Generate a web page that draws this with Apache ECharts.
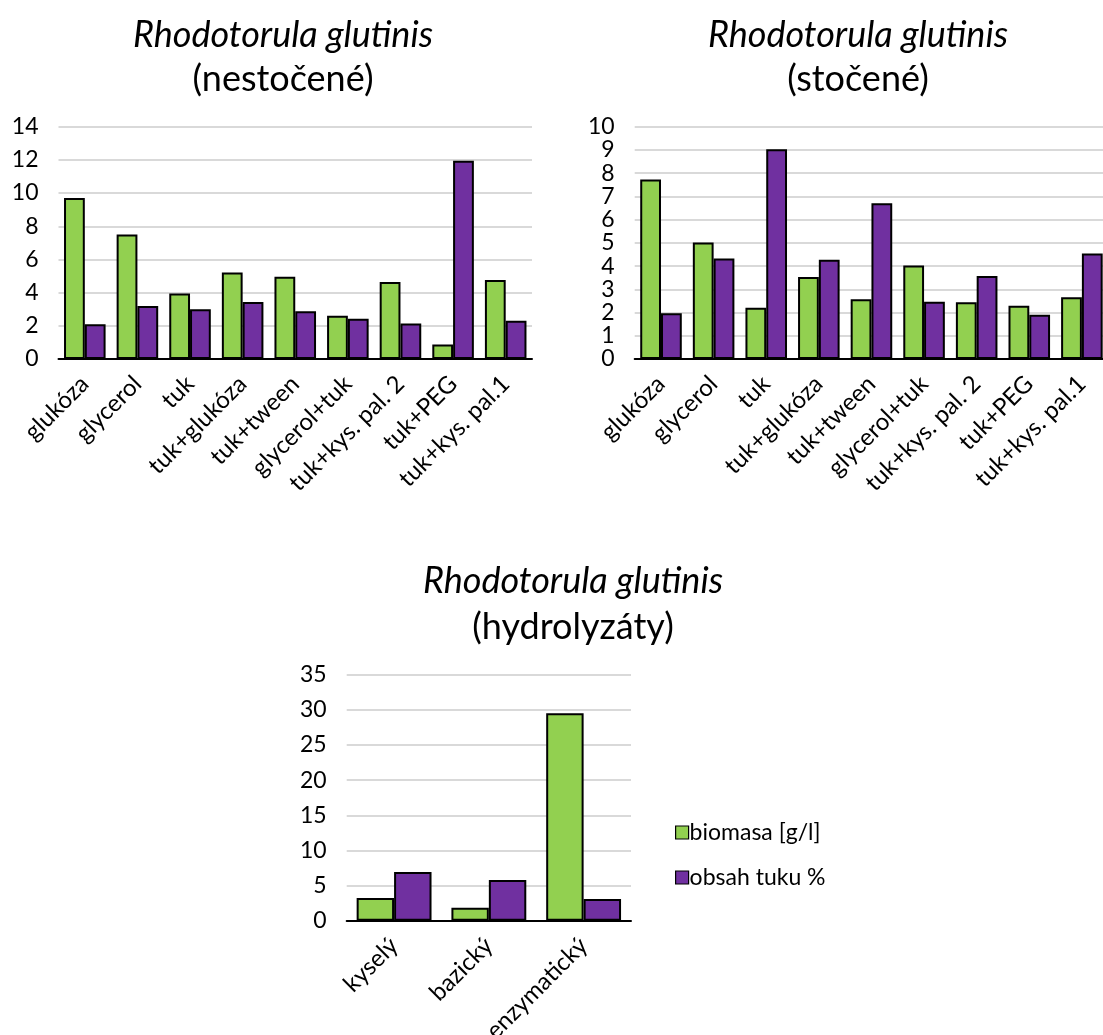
<!DOCTYPE html>
<html>
<head>
<meta charset="utf-8">
<script src="https://cdn.jsdelivr.net/npm/echarts@6/dist/echarts.min.js"></script>
<style>
html,body{margin:0;padding:0;background:#fff;}
#c{width:1103px;height:1035px;}
</style>
</head>
<body>
<div id="c"></div>
<script>
// ---- data ----
const catsTop = ['glukóza','glycerol','tuk','tuk+glukóza','tuk+tween','glycerol+tuk','tuk+kys. pal. 2','tuk+PEG','tuk+kys. pal.1'];
const biomasaNestocene = [9.7, 7.5, 3.95, 5.22, 4.96, 2.6, 4.64, 0.88, 4.76];
const tukNestocene     = [2.1, 3.2, 3.0, 3.43, 2.88, 2.42, 2.14, 11.95, 2.3];
const biomasaStocene   = [7.73, 5.01, 2.21, 3.53, 2.57, 4.03, 2.44, 2.29, 2.66];
const tukStocene       = [1.97, 4.33, 9.03, 4.27, 6.71, 2.46, 3.57, 1.91, 4.54];
const catsHydro = ['kyselý','bazický','enzymatický'];
const biomasaHydro = [3.22, 1.85, 29.5];
const tukHydro     = [6.92, 5.78, 3.08];
const seriesNames = ['biomasa [g/l]','obsah tuku %'];
const titles = [
  ['Rhodotorula glutinis','(nestočené)'],
  ['Rhodotorula glutinis','(stočené)'],
  ['Rhodotorula glutinis','(hydrolyzáty)']
];

const FONT = 'Lato';
const GREEN = '#92d050', PURPLE = '#7030a0';

function mkTitle(t, cx, top, gap){
  return {
    text: t[0], subtext: t[1], left: cx, top: top, textAlign: 'center', itemGap: gap,
    textStyle: {fontFamily: FONT, fontStyle: 'italic', fontWeight: 'normal', fontSize: 36, color: '#000', lineHeight: 40},
    subtextStyle: {fontFamily: FONT, fontSize: 36, color: '#000', lineHeight: 40}
  };
}
function mkX(cats, gi){
  return {
    type: 'category', data: cats, gridIndex: gi,
    axisLine: {lineStyle: {color: '#000', width: 2}},
    axisTick: {show: false},
    axisLabel: {rotate: 45, fontFamily: FONT, fontSize: 24, color: '#000', margin: 21, interval: 0, hideOverlap: false}
  };
}
function mkY(max, interval, gi){
  return {
    type: 'value', min: 0, max: max, interval: interval, gridIndex: gi,
    axisLine: {show: false}, axisTick: {show: false},
    splitLine: {lineStyle: {color: '#d9d9d9', width: 2}},
    axisLabel: {fontFamily: FONT, fontSize: 23, color: '#000', margin: 20,
                showMinLabel: true, showMaxLabel: true, hideOverlap: false}
  };
}
function mkBar(name, data, color, gi){
  return {
    type: 'bar', name: name, data: data, xAxisIndex: gi, yAxisIndex: gi,
    barGap: '0%', barCategoryGap: '21%',
    itemStyle: {color: color, borderColor: '#000', borderWidth: 2},
    emphasis: {disabled: true}, animation: false
  };
}

const chart = echarts.init(document.getElementById('c'), null, {renderer: 'canvas'});
chart.setOption({
  animation: false,
  backgroundColor: '#fff',
  title: [mkTitle(titles[0], 278, 10, 4), mkTitle(titles[1], 853, 10, 4), mkTitle(titles[2], 568, 556, 6)],
  grid: [
    {left: 58.5, width: 473.5, top: 126.7, height: 232.3, outerBoundsMode: 'none', containLabel: false},
    {left: 634.7, width: 473.5, top: 126.7, height: 232.3, outerBoundsMode: 'none', containLabel: false},
    {left: 346.7, width: 284.3, top: 674.7, height: 246, outerBoundsMode: 'none', containLabel: false}
  ],
  xAxis: [mkX(catsTop, 0), mkX(catsTop, 1), mkX(catsHydro, 2)],
  yAxis: [mkY(14, 2, 0), mkY(10, 1, 1), mkY(35, 5, 2)],
  legend: {
    data: seriesNames, orient: 'vertical', left: 670, top: 816, itemGap: 22,
    itemWidth: 13, itemHeight: 13, icon: 'rect',
    itemStyle: {borderColor: '#000', borderWidth: 1.2},
    textStyle: {fontFamily: FONT, fontSize: 23, color: '#000', padding: [0, 0, 0, -4]}
  },
  series: [
    mkBar(seriesNames[0], biomasaNestocene, GREEN, 0),
    mkBar(seriesNames[1], tukNestocene, PURPLE, 0),
    mkBar(seriesNames[0], biomasaStocene, GREEN, 1),
    mkBar(seriesNames[1], tukStocene, PURPLE, 1),
    mkBar(seriesNames[0], biomasaHydro, GREEN, 2),
    mkBar(seriesNames[1], tukHydro, PURPLE, 2)
  ]
});
</script>
</body>
</html>
